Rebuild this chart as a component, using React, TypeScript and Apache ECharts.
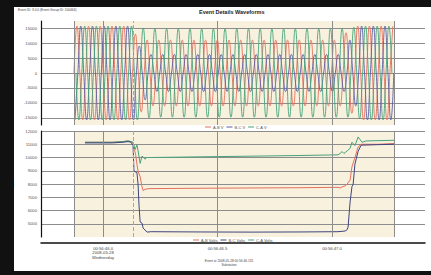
import { useEffect, useRef } from "react";
import * as echarts from "echarts";

// time axis in ms relative to 00:56:46.0
const X_MIN = -271;
const X_MAX = 1406;
const DATA_START = -127;
const DATA_END = 1271;
const CURSOR = 131;
const X_TICKS = [0, 500, 1000];
const X_TICK_LABELS = ["00:56:46.0\n2008-05-28\nWednesday", "00:56:46.5", "00:56:47.0"];
const V_LINES = [DATA_START, 0, 500, 1000, DATA_END];

const WAVE_TICKS = [-15000, -10000, -5000, 0, 5000, 10000, 15000];
const RMS_TICKS = [5000, 6000, 7000, 8000, 9000, 10000, 11000, 12000];

// waveform: peak value per cycle
const CYCLE_MS = 51.1;
const AB_PEAK = [15700, 15700, 15700, 15700, 15700, 13000, 11000, 11000, 11000, 11000, 11000, 11000, 11000, 11000, 11000, 11000, 11000, 11000, 11000, 11000, 11000, 11000, 11000, 13500, 15700, 15700, 15700, 15700];
const BC_PEAK = [15700, 15700, 15700, 15700, 15700, 9000, 6200, 6200, 6200, 6200, 6200, 6200, 6200, 6200, 6200, 6200, 6200, 6200, 6200, 6200, 6200, 6200, 6200, 11000, 15700, 15700, 15700, 15700];
const CA_PEAK = [15700, 15700, 15700, 15700, 15700, 15000, 14800, 14800, 14800, 14800, 14800, 14800, 14800, 14800, 14800, 14800, 14800, 14800, 14800, 14800, 14800, 14800, 14800, 15300, 15700, 15700, 15700, 15700];
const PHASE_SHIFT = [0, 1 / 3, 2 / 3];
const QUARTER_SIGN = [0, 1, 0, -1];

// RMS values [ms, volts]
const AB_RMS = [[-79, 11150], [40, 11150], [87, 11200], [109, 11250], [122, 11200], [131, 11100], [137, 10600], [142, 10250], [148, 9500], [153, 8950], [162, 8550], [170, 7800], [175, 7500], [183, 7600], [200, 7650], [424, 7680], [642, 7700], [860, 7720], [1026, 7750], [1035, 7700], [1044, 7780], [1057, 7850], [1066, 8000], [1079, 8300], [1087, 9300], [1100, 10000], [1114, 10800], [1127, 11000], [1200, 11000], [1271, 11050]];
const BC_RMS = [[-79, 11100], [40, 11100], [87, 11150], [109, 11200], [122, 11150], [131, 10900], [135, 9000], [142, 8900], [148, 8870], [153, 7950], [157, 6400], [162, 5130], [170, 5050], [175, 4670], [192, 4370], [210, 4400], [424, 4380], [642, 4370], [860, 4380], [1026, 4400], [1057, 4450], [1066, 4550], [1070, 4750], [1079, 6650], [1087, 7800], [1092, 7950], [1100, 9500], [1114, 10470], [1127, 10930], [1200, 10970], [1271, 11000]];
const CA_RMS = [[-79, 11150], [40, 11150], [87, 11200], [109, 11250], [122, 11200], [131, 11150], [140, 10600], [148, 10950], [153, 10500], [162, 9550], [170, 10100], [175, 10050], [183, 9870], [191, 10000], [210, 10000], [424, 10050], [642, 10100], [860, 10150], [1026, 10200], [1035, 10300], [1044, 10450], [1052, 10300], [1066, 10500], [1079, 10700], [1087, 11150], [1100, 10900], [1114, 11550], [1131, 11150], [1148, 11250], [1271, 11300]];

const RED = "#e5705d";
const BLUE = "#5a5fa8";
const BLUE_DARK = "#3e4580";
const GREEN = "#44a47a";
const BEIGE = "#f8f1de";
const FONT = "Liberation Sans, Arial, sans-serif";

function wave(peaks: number[], shift: number) {
  const pts: number[][] = [];
  for (let k = -1; k < peaks.length; k++) {
    const a = peaks[Math.max(k, 0)];
    for (let j = 0; j < 4; j++) {
      const t = DATA_START + (k + shift + j / 4) * CYCLE_MS;
      if (t >= DATA_START && t <= DATA_END) pts.push([t, QUARTER_SIGN[j] * a]);
    }
  }
  return pts;
}

function markers(gridIdx: number) {
  return {
    type: "line",
    name: "_m" + gridIdx,
    xAxisIndex: gridIdx,
    yAxisIndex: gridIdx,
    data: [],
    z: -1,
    silent: true,
    markArea: {
      z: -1,
      silent: true,
      itemStyle: { color: BEIGE },
      label: { show: false },
      data: [[{ xAxis: DATA_START }, { xAxis: DATA_END }]],
    },
    markLine: {
      silent: true,
      symbol: "none",
      label: { show: false },
      data: [
        ...V_LINES.map((v) => ({ xAxis: v, lineStyle: { color: "#8c8c8c", width: 1, type: "solid" } })),
        { xAxis: CURSOR, lineStyle: { color: "#e8906a", width: 1, type: "dashed" } },
      ],
    },
  };
}

export default function App() {
  const ref = useRef<HTMLDivElement>(null);
  useEffect(() => {
    if (!ref.current) return;
    const chart = echarts.init(ref.current, undefined, { renderer: "svg" });
    const xAxisBase = {
      type: "value",
      min: X_MIN,
      max: X_MAX,
      splitLine: { show: false },
    };
    const waveLine = (name: string, color: string, data: number[][]) => ({
      type: "line",
      name,
      xAxisIndex: 0,
      yAxisIndex: 0,
      data,
      smooth: 0.5,
      showSymbol: false,
      lineStyle: { color, width: 0.9 },
      itemStyle: { color },
    });
    const rmsLine = (name: string, color: string, data: number[][], z: number) => ({
      type: "line",
      name,
      xAxisIndex: 1,
      yAxisIndex: 1,
      data,
      z,
      showSymbol: false,
      lineStyle: { color, width: 1 },
      itemStyle: { color },
    });
    const plain = (v: number) => String(v);
    chart.setOption({
      animation: false,
      backgroundColor: "#ffffff",
      textStyle: { fontFamily: FONT },
      title: {
        text: "Event Details Waveforms",
        left: 199,
        top: 9,
        padding: 0,
        textStyle: { fontSize: 5.5, fontWeight: "bold", color: "#222", fontFamily: FONT },
      },
      legend: [
        {
          data: ["A-B V", "B-C V", "C-A V"],
          left: 205,
          top: 125,
          padding: 0,
          itemGap: 3,
          itemWidth: 6,
          itemHeight: 1,
          icon: "rect",
          textStyle: { fontSize: 4, color: "#555", padding: [0, 0, 0, -3] },
        },
        {
          data: ["A-B Volts", "B-C Volts", "C-A Volts"],
          left: 193,
          top: 238,
          padding: 0,
          itemGap: 3,
          itemWidth: 6,
          itemHeight: 1,
          icon: "rect",
          textStyle: { fontSize: 4, color: "#555", padding: [0, 0, 0, -3] },
        },
      ],
      grid: [
        { left: 41, right: 6, top: 21, height: 104 },
        { left: 41, right: 6, top: 131, height: 106 },
      ],
      xAxis: [
        {
          ...xAxisBase,
          gridIndex: 0,
          axisLine: { show: false, onZero: false },
          axisTick: { show: false },
          axisLabel: { show: false },
        },
        {
          ...xAxisBase,
          gridIndex: 1,
          offset: 6,
          axisLine: { show: true, onZero: false, lineStyle: { color: "#111", width: 1.5 } },
          axisTick: { show: false, customValues: X_TICKS },
          axisLabel: {
            customValues: X_TICKS,
            fontSize: 4.2,
            lineHeight: 4.4,
            color: "#444",
            margin: 3,
            formatter: (v: number) => {
              const i = X_TICKS.indexOf(v);
              return i >= 0 ? X_TICK_LABELS[i] : "";
            },
          },
        },
      ],
      yAxis: [
        {
          type: "value",
          gridIndex: 0,
          min: -17400,
          max: 17400,
          name: "Volts",
          nameLocation: "middle",
          nameGap: 19,
          nameTextStyle: { fontSize: 4, color: "#555" },
          axisLine: { show: true, onZero: false, lineStyle: { color: "#111", width: 1.2 } },
          axisTick: { show: false, customValues: WAVE_TICKS },
          axisLabel: { customValues: WAVE_TICKS, fontSize: 4.2, color: "#555", margin: 4, formatter: plain },
          splitLine: { show: true, lineStyle: { color: "#8c8c8c", width: 1 } },
        },
        {
          type: "value",
          gridIndex: 1,
          min: 4000,
          max: 12000,
          name: "Volts",
          nameLocation: "middle",
          nameGap: 19,
          nameTextStyle: { fontSize: 4, color: "#555" },
          axisLine: { show: true, onZero: false, lineStyle: { color: "#111", width: 1.2 } },
          axisTick: { show: false, customValues: RMS_TICKS },
          axisLabel: { customValues: RMS_TICKS, fontSize: 4.2, color: "#555", margin: 4, formatter: plain },
          splitLine: { show: true, lineStyle: { color: "#8c8c8c", width: 1 } },
        },
      ],
      graphic: [
        {
          type: "text",
          left: 18,
          top: 8,
          style: { text: "Event ID: 3.0.0 (Event Group ID: 100466)", fontSize: 3.2, fill: "#444", fontFamily: FONT },
        },
        {
          type: "text",
          x: 229,
          y: 259,
          style: {
            text: "Event at 2008-05-28 00:56:46.131\nSubstation",
            fontSize: 3.2,
            lineHeight: 3.8,
            fill: "#444",
            align: "center",
            fontFamily: FONT,
          },
        },
        { type: "rect", shape: { x: 0, y: 0, width: 14, height: 275 }, style: { fill: "#111" }, z: 100 },
        { type: "rect", shape: { x: 0, y: 0, width: 431, height: 7 }, style: { fill: "#111" }, z: 100 },
        { type: "rect", shape: { x: 0, y: 271, width: 431, height: 4 }, style: { fill: "#111" }, z: 100 },
      ],
      series: [
        markers(0),
        markers(1),
        waveLine("A-B V", RED, wave(AB_PEAK, PHASE_SHIFT[0])),
        waveLine("B-C V", BLUE, wave(BC_PEAK, PHASE_SHIFT[1])),
        waveLine("C-A V", GREEN, wave(CA_PEAK, PHASE_SHIFT[2])),
        rmsLine("A-B Volts", RED, AB_RMS, 2),
        rmsLine("C-A Volts", GREEN, CA_RMS, 2),
        rmsLine("B-C Volts", BLUE_DARK, BC_RMS, 3),
      ],
    });
    return () => chart.dispose();
  }, []);
  return (
    <div style={{ position: "fixed", left: 0, top: 0, width: 431, height: 275 }}>
      <div ref={ref} style={{ width: 431, height: 275 }} />
    </div>
  );
}
